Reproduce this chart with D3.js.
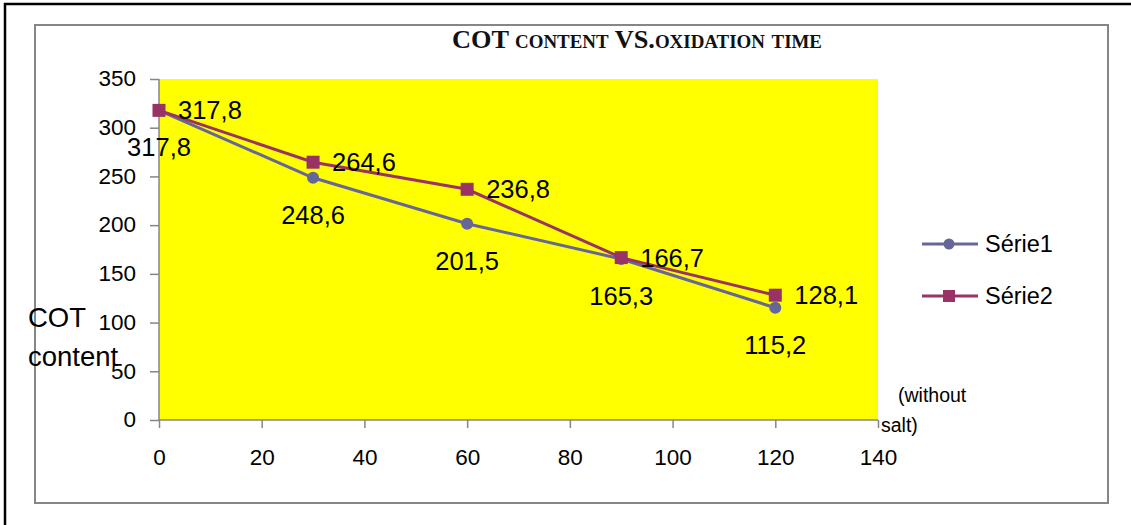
<!DOCTYPE html>
<html><head><meta charset="utf-8">
<script src="https://cdn.jsdelivr.net/npm/d3@7"></script>
<style>body{margin:0;background:#fff;} text{font-family:"Liberation Sans",Arial,sans-serif;}</style>
</head><body>
<svg id="c" width="1131" height="525"></svg>
<script>
const times = [0, 30, 60, 90, 120];
const serie1 = [317.8, 248.6, 201.5, 165.3, 115.2];
const serie2 = [317.8, 264.6, 236.8, 166.7, 128.1];
const seriesNames = ["Série1", "Série2"];
const xTicks = [0, 20, 40, 60, 80, 100, 120, 140];
const yTicks = [0, 50, 100, 150, 200, 250, 300, 350];
const fmt = v => v.toFixed(1).replace(".", ",");

const svg = d3.select("#c");
const c1 = "#666699", c2 = "#993366", axisC = "#868686";

// outer frame
svg.append("line").attr("x1",5).attr("y1",3).attr("x2",5).attr("y2",525).attr("stroke","#000").attr("stroke-width",2.5);
svg.append("line").attr("x1",4).attr("y1",4).attr("x2",1131).attr("y2",4).attr("stroke","#000").attr("stroke-width",2.5);
// chart box
svg.append("rect").attr("x",35).attr("y",25).attr("width",1073).attr("height",478)
  .attr("fill","#fff").attr("stroke",axisC).attr("stroke-width",2);

const x = d3.scaleLinear().domain([0,140]).range([159,878]);
const y = d3.scaleLinear().domain([0,350]).range([420,79]);

svg.append("rect").attr("x",x(0)).attr("y",y(350)).attr("width",x(140)-x(0)).attr("height",y(0)-y(350)).attr("fill","#ffff00");

const yAxis = svg.append("g").attr("transform",`translate(${x(0)},0)`)
  .call(d3.axisLeft(y).tickValues(yTicks).tickSize(9).tickPadding(14));
const xAxis = svg.append("g").attr("transform",`translate(0,${y(0)})`)
  .call(d3.axisBottom(x).tickValues(xTicks).tickSize(8).tickPadding(21));
[yAxis,xAxis].forEach(g=>{
  g.selectAll("path,line").attr("stroke",axisC).attr("stroke-width",1.5);
  g.selectAll("text").attr("font-size",22.5).attr("fill","#000");
});
yAxis.select("path").attr("d",`M0,${y(350)}V${y(0)}`);
yAxis.selectAll(".tick text").attr("dy","0.3em");
xAxis.select("path").attr("d",`M0,0H${x(140)-x(0)}`).attr("transform",`translate(${x(0)},0)`);

// title
svg.append("text").attr("x",637).attr("y",48).attr("text-anchor","middle")
  .style("font-family","'Liberation Serif','DejaVu Serif',serif").attr("font-weight","bold")
  .attr("font-size",25).style("font-variant","small-caps").attr("fill","#111")
  .attr("textLength",370).attr("lengthAdjust","spacingAndGlyphs")
  .text("COT content VS.oxidation time");

// axis titles
svg.append("text").attr("x",28).attr("y",327).attr("font-size",27.5).text("COT");
svg.append("text").attr("x",28).attr("y",366).attr("font-size",27.5).text("content");
svg.append("text").attr("x",898).attr("y",402).attr("font-size",19.5).text("(without");
svg.append("text").attr("x",881).attr("y",432).attr("font-size",19.5).text("salt)");

const line = d3.line().x((d,i)=>x(times[i])).y(d=>y(d));
svg.append("path").datum(serie1).attr("d",line).attr("fill","none").attr("stroke",c1).attr("stroke-width",3);
svg.append("path").datum(serie2).attr("d",line).attr("fill","none").attr("stroke",c2).attr("stroke-width",3);

svg.selectAll(".m1").data(serie1).enter().append("circle")
  .attr("cx",(d,i)=>x(times[i])).attr("cy",d=>y(d)).attr("r",6).attr("fill",c1);
svg.selectAll(".m2").data(serie2).enter().append("rect")
  .attr("x",(d,i)=>x(times[i])-6.5).attr("y",d=>y(d)-6.5).attr("width",13).attr("height",13).attr("fill",c2);

// data labels
svg.selectAll(".l1").data(serie1).enter().append("text")
  .attr("x",(d,i)=>x(times[i])).attr("y",d=>y(d)+37).attr("dy","0.35em")
  .attr("text-anchor","middle").attr("font-size",25.5).text(d=>fmt(d));
svg.selectAll(".l2").data(serie2).enter().append("text")
  .attr("x",(d,i)=>x(times[i])+19).attr("y",d=>y(d)).attr("dy","0.35em")
  .attr("font-size",25.5).text(d=>fmt(d));

// legend
const leg = [{n:seriesNames[0],c:c1,y:244,t:"c"},{n:seriesNames[1],c:c2,y:296,t:"s"}];
leg.forEach(l=>{
  svg.append("line").attr("x1",922).attr("x2",978).attr("y1",l.y).attr("y2",l.y).attr("stroke",l.c).attr("stroke-width",3);
  if(l.t==="c") svg.append("circle").attr("cx",949).attr("cy",l.y).attr("r",5.5).attr("fill",l.c);
  else svg.append("rect").attr("x",943).attr("y",l.y-6).attr("width",12).attr("height",12).attr("fill",l.c);
  svg.append("text").attr("x",985).attr("y",l.y).attr("dy","0.35em").attr("font-size",23.5).text(l.n);
});
</script>
</body></html>
